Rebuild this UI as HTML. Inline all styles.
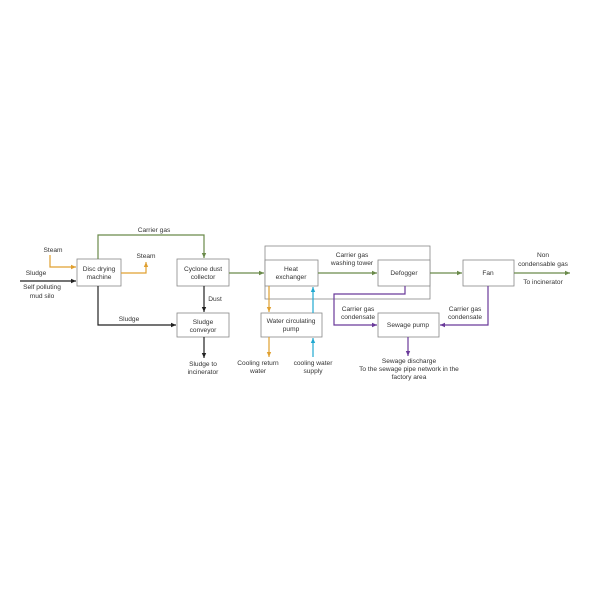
<!DOCTYPE html>
<html><head><meta charset="utf-8"><style>
html,body{margin:0;padding:0;background:#fff;width:600px;height:600px;overflow:hidden}
text{font-family:"Liberation Sans",sans-serif;font-size:6.6px;fill:#333;text-anchor:middle}
</style></head><body>
<svg width="600" height="600" viewBox="0 0 600 600" xmlns="http://www.w3.org/2000/svg">
<defs>
<marker id="ab" markerWidth="6" markerHeight="6" refX="5" refY="3" orient="auto" markerUnits="userSpaceOnUse"><path d="M0,0.8 L5,3 L0,5.2z" fill="#222"/></marker>
<marker id="ag" markerWidth="6" markerHeight="6" refX="5" refY="3" orient="auto" markerUnits="userSpaceOnUse"><path d="M0,0.8 L5,3 L0,5.2z" fill="#6a8a4a"/></marker>
<marker id="ao" markerWidth="6" markerHeight="6" refX="5" refY="3" orient="auto" markerUnits="userSpaceOnUse"><path d="M0,0.8 L5,3 L0,5.2z" fill="#e0a030"/></marker>
<marker id="ac" markerWidth="6" markerHeight="6" refX="5" refY="3" orient="auto" markerUnits="userSpaceOnUse"><path d="M0,0.8 L5,3 L0,5.2z" fill="#20a8d0"/></marker>
<marker id="ap" markerWidth="6" markerHeight="6" refX="5" refY="3" orient="auto" markerUnits="userSpaceOnUse"><path d="M0,0.8 L5,3 L0,5.2z" fill="#6a3a9a"/></marker>
</defs>
<g fill="#fff" stroke="#888" stroke-width="0.8">
<rect x="265" y="246" width="165" height="53"/>
<rect x="77" y="259" width="44" height="27"/>
<rect x="177" y="259" width="52" height="27"/>
<rect x="177" y="313" width="52" height="24"/>
<rect x="265" y="260" width="53" height="26"/>
<rect x="378" y="260" width="52" height="26"/>
<rect x="463" y="260" width="51" height="26"/>
<rect x="261" y="313" width="61" height="24"/>
<rect x="378" y="313" width="61" height="24"/>
</g>
<g fill="none" stroke-width="1.2">
<path d="M98,259 V235 H204 V258" stroke="#6a8a4a" marker-end="url(#ag)"/>
<path d="M229,273 H264" stroke="#6a8a4a" marker-end="url(#ag)"/>
<path d="M318,273 H377" stroke="#6a8a4a" marker-end="url(#ag)"/>
<path d="M430,273 H462" stroke="#6a8a4a" marker-end="url(#ag)"/>
<path d="M514,273 H570" stroke="#6a8a4a" marker-end="url(#ag)"/>
<path d="M50,255 V267 H76" stroke="#e0a030" marker-end="url(#ao)"/>
<path d="M121,273 H146 V262" stroke="#e0a030" marker-end="url(#ao)"/>
<path d="M20,281 H76" stroke="#222" marker-end="url(#ab)"/>
<path d="M98,286 V325 H176" stroke="#222" marker-end="url(#ab)"/>
<path d="M204,286 V312" stroke="#222" marker-end="url(#ab)"/>
<path d="M204,337 V358" stroke="#222" marker-end="url(#ab)"/>
<path d="M269,286 V312" stroke="#e0a030" marker-end="url(#ao)"/>
<path d="M269,337 V357" stroke="#e0a030" marker-end="url(#ao)"/>
<path d="M313,357 V338" stroke="#20a8d0" marker-end="url(#ac)"/>
<path d="M313,313 V287" stroke="#20a8d0" marker-end="url(#ac)"/>
<path d="M405,286 V294 H334 V325 H377" stroke="#6a3a9a" marker-end="url(#ap)"/>
<path d="M488,286 V325 H440" stroke="#6a3a9a" marker-end="url(#ap)"/>
<path d="M408,337 V356" stroke="#6a3a9a" marker-end="url(#ap)"/>
</g>
<text x="99" y="271">Disc drying</text><text x="99" y="279">machine</text>
<text x="203" y="271">Cyclone dust</text><text x="203" y="279">collector</text>
<text x="203" y="324">Sludge</text><text x="203" y="332">conveyor</text>
<text x="291" y="271">Heat</text><text x="291" y="279">exchanger</text>
<text x="404" y="275">Defogger</text>
<text x="488" y="275">Fan</text>
<text x="291" y="323">Water circulating</text><text x="291" y="331">pump</text>
<text x="408" y="327">Sewage pump</text>
<text x="154" y="232">Carrier gas</text>
<text x="53" y="252">Steam</text>
<text x="146" y="258">Steam</text>
<text x="36" y="275">Sludge</text>
<text x="42" y="289">Self polluting</text><text x="42" y="298">mud silo</text>
<text x="129" y="321">Sludge</text>
<text x="215" y="301">Dust</text>
<text x="203" y="366">Sludge to</text><text x="203" y="374">incinerator</text>
<text x="352" y="257">Carrier gas</text><text x="352" y="265">washing tower</text>
<text x="543" y="257">Non</text><text x="543" y="266">condensable gas</text>
<text x="543" y="284">To incinerator</text>
<text x="358" y="311">Carrier gas</text><text x="358" y="319">condensate</text>
<text x="465" y="311">Carrier gas</text><text x="465" y="319">condensate</text>
<text x="258" y="365">Cooling return</text><text x="258" y="373">water</text>
<text x="313" y="365">cooling water</text><text x="313" y="373">supply</text>
<text x="409" y="363">Sewage discharge</text>
<text x="409" y="371">To the sewage pipe network in the</text>
<text x="409" y="379">factory area</text>
</svg>
</body></html>
